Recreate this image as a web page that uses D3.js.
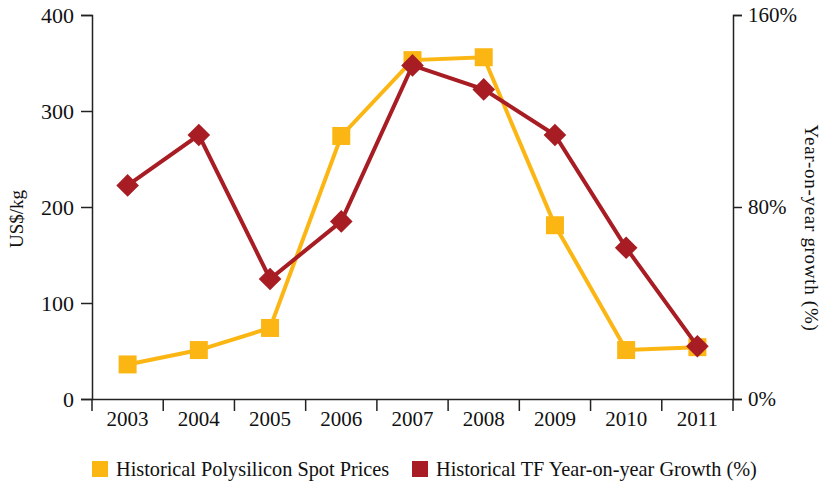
<!DOCTYPE html>
<html>
<head>
<meta charset="utf-8">
<script src="https://cdn.jsdelivr.net/npm/d3@7"></script>
<style>
  body { margin: 0; background: #fff; }
  text { font-family: "Liberation Serif", "DejaVu Serif", serif; fill: #111; }
</style>
</head>
<body>
<div id="chart"></div>
<script>
var width = 822;
var height = 485;
var marginLeft = 92;
var marginTop = 15;
var innerW = 733 - marginLeft;
var innerH = 399 - marginTop;

// data
var years = ['2003','2004','2005','2006','2007','2008','2009','2010','2011'];
var spotPrices = [36, 51, 74, 274, 353, 356, 181, 51, 54];
var tfGrowth = [89, 110, 50, 74, 139, 129, 110, 63, 22];
var leftTicks = [0, 100, 200, 300, 400];
var rightTicks = [0, 80, 160];

var yellow = '#fcb614';
var red = '#a81d24';

var svg = d3.select('#chart')
    .append('svg')
    .attr('width', width)
    .attr('height', height);

var g = svg.append('g')
    .attr('transform', 'translate(' + marginLeft + ',' + marginTop + ')');

var x = d3.scaleBand().domain(years).range([0, innerW]);
var yLeft = d3.scaleLinear().domain([0, 400]).range([innerH, 0]);
var yRight = d3.scaleLinear().domain([0, 160]).range([innerH, 0]);

function cx(d, i) { return x(years[i]) + x.bandwidth() / 2; }

// axes
var leftAxis = g.append('g')
    .call(d3.axisLeft(yLeft).tickValues(leftTicks).tickSize(11).tickPadding(7));
leftAxis.selectAll('text').style('font-size', '22px');

var rightAxis = g.append('g')
    .attr('transform', 'translate(' + innerW + ',0)')
    .call(d3.axisRight(yRight).tickValues(rightTicks).tickSize(9).tickPadding(6)
      .tickFormat(function(d){ return d + '%'; }));
rightAxis.selectAll('text').style('font-size', '21px');

var bottomAxis = g.append('g')
    .attr('transform', 'translate(0,' + innerH + ')')
    .call(d3.axisBottom(x).tickSize(0).tickPadding(12));
bottomAxis.selectAll('text').style('font-size', '21px');
// tick marks between the categories
bottomAxis.selectAll('line.sep')
    .data(d3.range(years.length + 1))
    .enter()
    .append('line')
    .attr('class', 'sep')
    .attr('x1', function(d){ return d * x.step(); })
    .attr('x2', function(d){ return d * x.step(); })
    .attr('y1', 0)
    .attr('y2', 12)
    .attr('stroke', '#222')
    .attr('stroke-width', 1.5);

svg.selectAll('.domain, .tick line').attr('stroke', '#222').attr('stroke-width', 1.5);

// yellow series
var lineLeft = d3.line().x(cx).y(function(d){ return yLeft(d); });
g.append('path')
    .datum(spotPrices)
    .attr('d', lineLeft)
    .attr('fill', 'none')
    .attr('stroke', yellow)
    .attr('stroke-width', 4);

g.selectAll('rect.spot')
    .data(spotPrices)
    .enter()
    .append('rect')
    .attr('class', 'spot')
    .attr('x', function(d, i){ return cx(d, i) - 9; })
    .attr('y', function(d){ return yLeft(d) - 9; })
    .attr('width', 18)
    .attr('height', 18)
    .attr('fill', yellow);

// red series
var lineRight = d3.line().x(cx).y(function(d){ return yRight(d); });
g.append('path')
    .datum(tfGrowth)
    .attr('d', lineRight)
    .attr('fill', 'none')
    .attr('stroke', red)
    .attr('stroke-width', 4);

g.selectAll('rect.tf')
    .data(tfGrowth)
    .enter()
    .append('rect')
    .attr('class', 'tf')
    .attr('x', -8)
    .attr('y', -8)
    .attr('width', 16)
    .attr('height', 16)
    .attr('transform', function(d, i){
        return 'translate(' + cx(d, i) + ',' + yRight(d) + ') rotate(45)';
    })
    .attr('fill', red);

// axis titles
svg.append('text')
    .attr('transform', 'translate(23,219) rotate(-90)')
    .attr('text-anchor', 'middle')
    .style('font-size', '19px')
    .text('US$/kg');

svg.append('text')
    .attr('transform', 'translate(805,228) rotate(90)')
    .attr('text-anchor', 'middle')
    .style('font-size', '19px')
    .style('letter-spacing', '0.7px')
    .text('Year-on-year growth (%)');

// legend
var legend = [
  {label: 'Historical Polysilicon Spot Prices', color: yellow, x: 92},
  {label: 'Historical TF Year-on-year Growth (%)', color: red, x: 412}
];
var lg = svg.selectAll('g.legend')
    .data(legend)
    .enter()
    .append('g')
    .attr('class', 'legend')
    .attr('transform', function(d){ return 'translate(' + d.x + ',461)'; });
lg.append('rect')
    .attr('width', 16)
    .attr('height', 16)
    .attr('fill', function(d){ return d.color; });
lg.append('text')
    .attr('x', 24)
    .attr('y', 15)
    .style('font-size', '20.3px')
    .text(function(d){ return d.label; });
</script>
</body>
</html>
